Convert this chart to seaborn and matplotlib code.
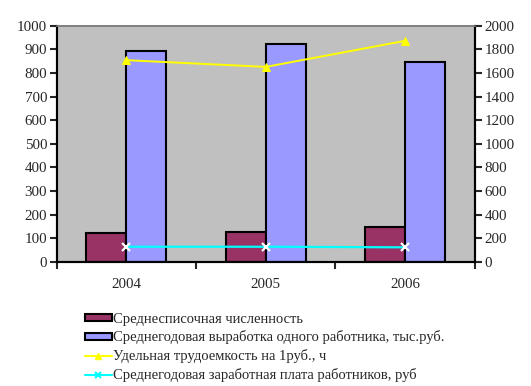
import pandas as pd
import numpy as np
import matplotlib
matplotlib.use("Agg")
import matplotlib.pyplot as plt
import seaborn as sns
from matplotlib.patches import Patch
from matplotlib.lines import Line2D

years = ['2004', '2005', '2006']
chislennost = [120, 125, 148]
vyrabotka = [894, 921, 845]
trudoemkost = [1709, 1652, 1873]
zarplata = [127, 127, 122]

labels = ['Среднесписочная численность',
          'Среднегодовая выработка одного работника, тыс.руб.',
          'Удельная трудоемкость на 1руб., ч',
          'Среднегодовая заработная плата работников, руб']
colors = ['#993366', '#9999FF', '#FFFF00', '#00FFFF']

sns.set_style('white')
plt.rcParams['font.family'] = ['Liberation Serif', 'DejaVu Serif']
plt.rcParams['font.size'] = 10

df = pd.DataFrame({
    'year': years * 2,
    'value': chislennost + vyrabotka,
    'series': [labels[0]] * 3 + [labels[1]] * 3,
})

fig = plt.figure(figsize=(5.31, 3.86), dpi=100)
ax = fig.add_axes([0.107, 0.322, 0.787, 0.611])
ax.set_facecolor('#C0C0C0')

sns.barplot(data=df, x='year', y='value', hue='series', palette=colors[:2],
            width=0.574, saturation=1, edgecolor='black', linewidth=1.5,
            legend=False, ax=ax)
ax.set_xlim(-0.5, 2.5)
ax.set_ylim(0, 1000)
ax.set_yticks(np.arange(0, 1001, 100))
ax.set_xlabel('')
ax.set_ylabel('')

ax2 = ax.twinx()
xpos = np.arange(len(years))
sns.lineplot(x=xpos, y=trudoemkost, color=colors[2], marker='^', markersize=6,
             markeredgecolor=colors[2], linewidth=1.4, ax=ax2)
sns.lineplot(x=xpos, y=zarplata, color=colors[3], marker='x', markersize=6,
             markeredgewidth=1.6, linewidth=1.6, ax=ax2)
ax2.set_ylim(0, 2000)
ax2.set_yticks(np.arange(0, 2001, 200))
ax2.set_xlim(-0.5, 2.5)

for a in (ax, ax2):
    for s in ['left', 'right', 'bottom']:
        a.spines[s].set_color('black')
        a.spines[s].set_linewidth(1.5)
    a.spines['top'].set_color('#808080')
    a.spines['top'].set_linewidth(1.2)
    a.tick_params(axis='y', direction='out', length=5, width=1.5, pad=2,
                  labelsize=10.8)

ax.tick_params(axis='y', left=True, right=False)
ax2.tick_params(axis='y', right=True, left=False)

ax.set_xticks(xpos)
ax.set_xticklabels(years)
ax.set_xticks([-0.5, 0.5, 1.5, 2.5], minor=True)
ax.tick_params(axis='x', which='major', length=0, pad=12, labelsize=10.8)
ax.tick_params(axis='x', which='minor', direction='out', length=5, width=1.5,
               bottom=True)

handles = [
    Patch(facecolor=colors[0], edgecolor='black', linewidth=1.5),
    Patch(facecolor=colors[1], edgecolor='black', linewidth=1.5),
    Line2D([], [], color=colors[2], marker='^', markersize=5, linewidth=1.5),
    Line2D([], [], color=colors[3], marker='x', markersize=5,
           markeredgewidth=1.5, linewidth=1.5),
]
fig.legend(handles, labels, loc='upper left', bbox_to_anchor=(0.16, 0.19),
           frameon=False, fontsize=10.5, handlelength=1.85, handleheight=0.4,
           handletextpad=0.05, labelspacing=0.33, borderaxespad=0,
           borderpad=0)

fig.savefig('out.png', dpi=100, facecolor='white')
